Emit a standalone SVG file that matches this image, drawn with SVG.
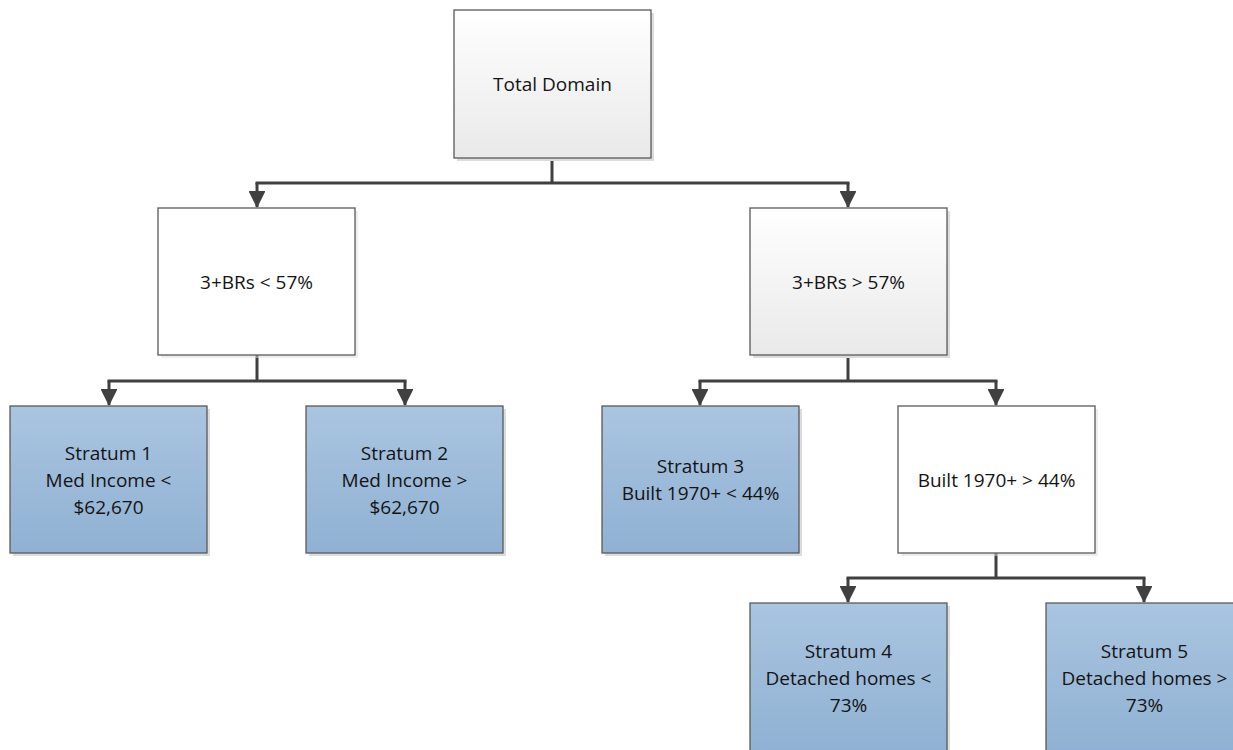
<svg xmlns="http://www.w3.org/2000/svg" width="1233" height="750" viewBox="0 0 1233 750">
<style>
.box{stroke:#595959;stroke-width:1.3}
.shadow{fill:#dcdcdc}
.blue{fill:url(#gBlue)}
.gray{fill:url(#gGray)}
.white{fill:#ffffff}
text{font-family:"Open Sans","Liberation Sans",Arial,sans-serif;font-size:19px;fill:#141414;text-anchor:middle}
.conn{fill:none;stroke:#404040;stroke-width:3;stroke-linejoin:miter}
</style>
<defs>
<linearGradient id="gBlue" x1="0" y1="0" x2="0" y2="1">
<stop offset="0" stop-color="#a9c5e0"/>
<stop offset="1" stop-color="#90b1d3"/>
</linearGradient>
<linearGradient id="gGray" x1="0" y1="0" x2="0" y2="1">
<stop offset="0" stop-color="#ffffff"/>
<stop offset="1" stop-color="#e9e9e9"/>
</linearGradient>
<marker id="arr" markerWidth="5.6" markerHeight="5.6" refX="5.3" refY="2.8" orient="auto" markerUnits="strokeWidth">
<path d="M0,0 L5.6,2.8 L0,5.6 z" fill="#404040"/>
</marker>
</defs>
<rect width="1233" height="750" fill="#ffffff"/>

<g id="connectors">
<path class="conn" d="M552,158 V183 M255.5,183 H849.5"/>
<path class="conn" d="M257,183 V207" marker-end="url(#arr)"/>
<path class="conn" d="M848,183 V207" marker-end="url(#arr)"/>
<path class="conn" d="M257,355 V381 M107.5,381 H406.5"/>
<path class="conn" d="M109,381 V405" marker-end="url(#arr)"/>
<path class="conn" d="M405,381 V405" marker-end="url(#arr)"/>
<path class="conn" d="M848,355 V381 M698.5,381 H997.5"/>
<path class="conn" d="M700,381 V405" marker-end="url(#arr)"/>
<path class="conn" d="M996,381 V405" marker-end="url(#arr)"/>
<path class="conn" d="M996,553 V578 M846.5,578 H1145.5"/>
<path class="conn" d="M848,578 V602" marker-end="url(#arr)"/>
<path class="conn" d="M1144,578 V602" marker-end="url(#arr)"/>
</g>

<g id="total-domain">
<rect class="shadow" x="457" y="13" width="197" height="148"/>
<rect class="box gray" x="454" y="10" width="197" height="148"/>
<text x="552.5" y="91">Total Domain</text>
</g>

<g id="brs-lt">
<rect class="shadow" x="161" y="211" width="197" height="147" fill-opacity="0.5"/>
<rect class="box white" x="158" y="208" width="197" height="147"/>
<text x="256.5" y="289">3+BRs &lt; 57%</text>
</g>

<g id="brs-gt">
<rect class="shadow" x="753" y="211" width="197" height="147"/>
<rect class="box gray" x="750" y="208" width="197" height="147"/>
<text x="848.5" y="289">3+BRs &gt; 57%</text>
</g>

<g id="stratum1">
<rect class="shadow" x="13" y="409" width="197" height="147"/>
<rect class="box blue" x="10" y="406" width="197" height="147"/>
<text x="108.5" y="460">Stratum 1</text>
<text x="108.5" y="487">Med Income &lt;</text>
<text x="108.5" y="514">$62,670</text>
</g>

<g id="stratum2">
<rect class="shadow" x="309" y="409" width="197" height="147"/>
<rect class="box blue" x="306" y="406" width="197" height="147"/>
<text x="404.5" y="460">Stratum 2</text>
<text x="404.5" y="487">Med Income &gt;</text>
<text x="404.5" y="514">$62,670</text>
</g>

<g id="stratum3">
<rect class="shadow" x="605" y="409" width="197" height="147"/>
<rect class="box blue" x="602" y="406" width="197" height="147"/>
<text x="700.5" y="473">Stratum 3</text>
<text x="700.5" y="500">Built 1970+ &lt; 44%</text>
</g>

<g id="built-gt">
<rect class="shadow" x="901" y="409" width="197" height="147" fill-opacity="0.5"/>
<rect class="box white" x="898" y="406" width="197" height="147"/>
<text x="996.5" y="487">Built 1970+ &gt; 44%</text>
</g>

<g id="stratum4">
<rect class="shadow" x="753" y="606" width="197" height="150"/>
<rect class="box blue" x="750" y="603" width="197" height="150"/>
<text x="848.5" y="658">Stratum 4</text>
<text x="848.5" y="685">Detached homes &lt;</text>
<text x="848.5" y="712">73%</text>
</g>

<g id="stratum5">
<rect class="box blue" x="1046" y="603" width="197" height="150"/>
<text x="1144.5" y="658">Stratum 5</text>
<text x="1144.5" y="685">Detached homes &gt;</text>
<text x="1144.5" y="712">73%</text>
</g>
</svg>
